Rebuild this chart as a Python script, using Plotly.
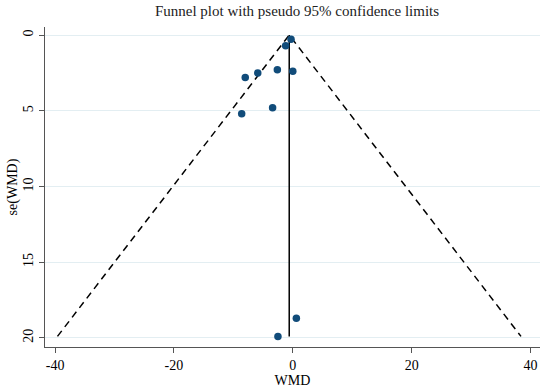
import plotly.graph_objects as go

# Study estimates (WMD) and standard errors
wmd = [-0.3, -1.2, -8.0, -5.9, -2.6, 0.0, -8.6, -3.4, 0.6, -2.5]
se = [0.28, 0.7, 2.8, 2.5, 2.3, 2.4, 5.2, 4.8, 18.7, 19.9]

pooled = -0.6        # pooled (fixed-effect) estimate
se_max = 19.9        # funnel drawn down to max se
z = 1.96

xticks = [-40, -20, 0, 20, 40]
xtick_labels = ["-40", "-20", "0", "20", "40"]
yticks = [0, 5, 10, 15, 20]

font = "Liberation Serif, Times New Roman, serif"

fig = go.Figure()
# funnel limits
fig.add_trace(go.Scatter(
    x=[pooled - z * se_max, pooled, pooled + z * se_max],
    y=[se_max, 0, se_max],
    mode="lines", line=dict(color="black", width=1.5, dash="7px,5px"),
    hoverinfo="skip", showlegend=False))
# pooled line
fig.add_trace(go.Scatter(
    x=[pooled, pooled], y=[0, se_max],
    mode="lines", line=dict(color="black", width=1.5),
    hoverinfo="skip", showlegend=False))
# studies
fig.add_trace(go.Scatter(
    x=wmd, y=se, mode="markers",
    marker=dict(color="#114c7a", size=7.5),
    showlegend=False))

fig.update_layout(
    width=550, height=390,
    margin=dict(l=45, r=10, t=27, b=43, autoexpand=False),
    paper_bgcolor="white", plot_bgcolor="white",
    font=dict(family=font, size=14, color="black"),
    title=dict(text="Funnel plot with pseudo 95% confidence limits",
               x=0.54, xanchor="center", y=0.985, yanchor="top",
               font=dict(family=font, size=15, color="#222")),
)
fig.update_xaxes(
    range=[-41.7, 41.6], tickvals=xticks, ticktext=xtick_labels,
    ticks="outside", ticklen=5,
    tickcolor="#555", showline=True, linecolor="#555", linewidth=1,
    showgrid=False, zeroline=False, automargin=False,
    title=dict(text="WMD", standoff=0, font=dict(family=font, size=14)),
    tickfont=dict(family=font, size=14))
fig.update_yaxes(
    range=[20.6, -0.53], tickvals=yticks, ticks="outside", ticklen=5,
    tickcolor="#555", showline=True, linecolor="#555", linewidth=1,
    showgrid=True, gridcolor="#e3eef2", gridwidth=1, zeroline=False,
    tickangle=-90, automargin=False,
    title=dict(text="se(WMD)", standoff=0, font=dict(family=font, size=14)),
    tickfont=dict(family=font, size=14))

fig.write_html("out.html", config={"displayModeBar": False},
               post_script="document.body.style.margin='0';document.body.style.overflow='hidden';")
